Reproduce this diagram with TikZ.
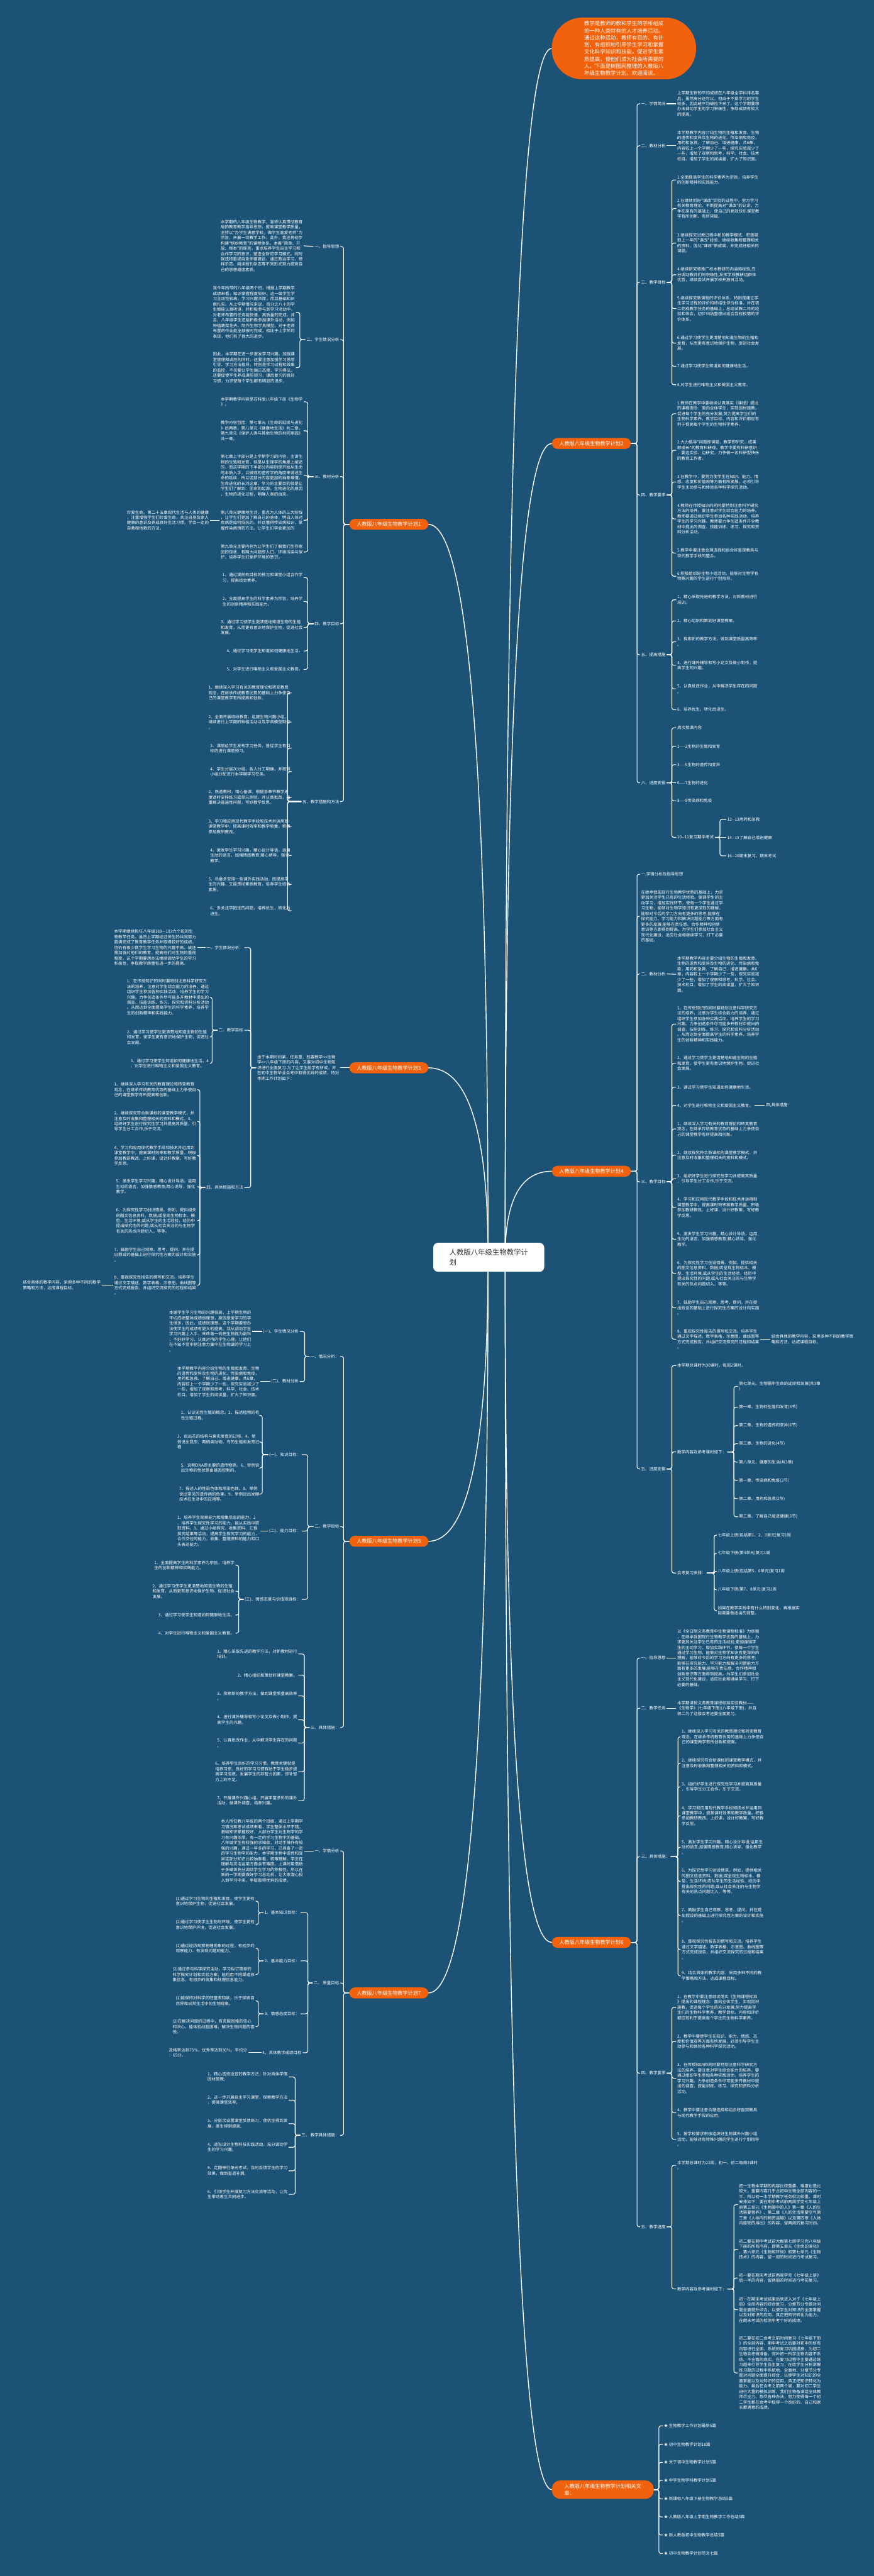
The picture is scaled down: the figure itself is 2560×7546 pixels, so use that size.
\documentclass[tikz,border=0pt]{standalone}
\usepackage{fontspec}
\newfontfamily\cn{Noto Sans CJK SC}
\usetikzlibrary{calc}
\definecolor{bgc}{RGB}{27,82,118}
\definecolor{orc}{RGB}{242,98,12}
\definecolor{rootc}{RGB}{51,51,51}
\pgfdeclarelayer{bglayer}
\pgfdeclarelayer{connlayer}
\pgfsetlayers{bglayer,connlayer,main}
\tikzset{
  leaf/.style={font=\cn\fontsize{12}{15.6}\selectfont, text=white, align=left, inner sep=3pt},
  rl/.style={leaf, anchor=west},
  ll/.style={leaf, anchor=east},
  branch/.style={fill=orc, text=white, font=\cn\fontsize{15}{19}\selectfont, rounded corners=16pt, minimum height=32pt, minimum width=231pt, inner xsep=10pt, inner ysep=0pt},
  conn/.style={draw=white, line width=2pt, rounded corners=6pt},
  mainc/.style={draw=white, line width=2.6pt},
}
\newcommand{\myrc}[3]{\draw[conn] (#1.east) -- ++(#3,0) |- (#2.west);}
\newcommand{\mylc}[3]{\draw[conn] (#1.west) -- ++(-#3,0) |- (#2.east);}
\newcommand{\myrs}[2]{\draw[conn] (#1.east) -- (#2.west);}
\newcommand{\myls}[2]{\draw[conn] (#1.west) -- (#2.east);}
\newcommand{\mycurve}[2]{\draw[mainc] (#1) .. controls ($(#1)!0.6667!(#1|-#2)$) and ($(#2)!0.6667!(#1|-#2)$) .. (#2);}
\begin{document}
\begin{tikzpicture}[x=1pt,y=-1pt]
\begin{pgfonlayer}{bglayer}
\fill[bgc] (0,0) rectangle (2560,7546);
\end{pgfonlayer}
\useasboundingbox (0,0) rectangle (2560,7546);

% ---------- top and root ----------
\node[fill=orc, text=white, rounded corners=90pt, minimum width=423pt, minimum height=181pt, align=left, font=\cn\fontsize{15.5}{20.7}\selectfont] (top) at (1828,142) {教学是教师的教和学生的学所组成\\的一种人类特有的人才培养活动。\\通过这种活动，教师有目的、有计\\划、有组织地引导学生学习和掌握\\文化科学知识和技能，促进学生素\\质提高，使他们成为社会所需要的\\人。下面是树图网整理的人教版八\\年级生物教学计划，欢迎阅读。};
\node[fill=white, text=rootc, rounded corners=14pt, minimum width=325pt, minimum height=85pt, align=left, font=\cn\fontsize{21}{29}\selectfont] (root) at (1432,3683) {人教版八年级生物教学计\\划};
\coordinate (SR) at (1480,3683);
\coordinate (SL) at (1430,3683);

% ---------- branch 2 ----------
\node[branch, anchor=west] (b2) at (1617,1299) {人教版八年级生物教学计划2};
\node[rl] (b2a) at (1875,304) {一、学情简况};
\node[rl] (b2a1) at (1981,304) {上学期生物的平均成绩在八年级全学科排名靠\\后，虽然高分还可以，但由于不爱学习的学生\\较多，因此班平均被拉下来了。这个学期要想\\办法调动学生的学习积极性，争取成绩有较大\\的提高。};
\node[rl] (b2b) at (1875,427) {二、教材分析};
\node[rl] (b2b1) at (1981,427) {本学期教学内容介绍生物的生殖和发育、生物\\的遗传和变异及生物的进化、传染病和免疫，\\用药和急救、了解自己、增进健康。共6章，\\内容较上一个学期少了一些，探究实验减少了\\一些，增加了观察和思考，科学、社会、技术\\栏目。增加了学生的阅读量，扩大了知识面。};
\node[rl] (b2c) at (1875,827) {三、教学目标};
\node[rl] (b2c1) at (1981,527) {1.全面提高学生的科学素养为宗旨，培养学生\\的创新精神和实践能力。};
\node[rl] (b2c2) at (1981,611) {2.在继续抓好"课改"实验的过程中，努力学习\\有关教育理论，不断提高对"课改"的认识，力\\争在原有的基础上，使自己的高效快乐课堂教\\学有所创新、有所突破。};
\node[rl] (b2c3) at (1981,712) {3.继续探究试教过程中新的教学模式，积极吸\\取上一年的"课改"经验，继续收集和整理相关\\的资料，固化"课改"新成果，并完成好相关的\\课题。};
\node[rl] (b2c4) at (1981,805) {4.继续研究和推广校本教研的内涵和经验,充\\分调动教师们的积极性,发挥学校教研组群体\\优势，继续尝试开展学校开放日活动。};
\node[rl] (b2c5) at (1981,904) {5.继续探究新课程的评价体系，特别是建立学\\生学习过程的评价和终结性评价标准，并在初\\二完成教学任务的基础上，总结试教二年的经\\验和体会，初步归纳整理出适合我校校情的评\\价体系。};
\node[rl] (b2c6) at (1981,1005) {6.通过学习使学生更清楚地知道生物的生殖和\\发育，从而更有意识地保护生物，促进社会发\\展。};
\node[rl] (b2c7) at (1981,1073) {7.通过学习使学生知道如何健康地生活。};
\node[rl] (b2c8) at (1981,1127) {8.对学生进行唯物主义和爱国主义教育。};
\node[rl] (b2d) at (1875,1450) {四、教学要求};
\node[rl] (b2d1) at (1981,1212) {1.教师在教学中要继续认真落实《课程》提出\\的课程理念：面向全体学生，实现因材施教，\\促进每个学生的充分发展;努力提高学生们的\\生物科学素养，教学目标、内容和评价都应有\\利于提高每个学生的生物科学素养。};
\node[rl] (b2d2) at (1981,1319) {2.大力倡导"问题即课题，教学即研究，成果\\即成长"的教育科研观。教学中要有科研意识\\，要边实验、边研究，力争做一名科研型快乐\\的教育工作者。};
\node[rl] (b2d3) at (1981,1412) {3.在教学中，要努力使学生在知识、能力、情\\感、态度和价值观等方面有所发展，必须引导\\学生主动参与和体验各种科学探究活动。};
\node[rl] (b2d4) at (1981,1520) {4.教师在传授知识的同时要特别注意科学研究\\方法的培养。要注意对学生综合能力的培养。\\教师要通过组织学生参加各种实践活动，培养\\学生的学习兴趣。教师要力争创造条件开全教\\材中提出的调查、技能训练、练习、探究和资\\料分析活动。};
\node[rl] (b2d5) at (1981,1620) {5.教学中要注意合理选择和组合好直观教具与\\现代教学手段的整合。};
\node[rl] (b2d6) at (1981,1688) {6.积极组织好生物小组活动，能够对生物学有\\特殊兴趣的学生进行个别指导。};
\node[rl] (b2e) at (1875,1918) {五、提高措施};
\node[rl] (b2e1) at (1981,1757) {1、精心采取先进的教学方法，对新教材进行\\培训。};
\node[rl] (b2e2) at (1981,1819) {2、精心组织和策划好课堂教案。};
\node[rl] (b2e3) at (1981,1880) {3、探索新的教学方法，做到课堂质量高效率\\。};
\node[rl] (b2e4) at (1981,1949) {4、进行课外辅导和写小论文及做小制作，提\\高学生的兴趣。};
\node[rl] (b2e5) at (1981,2018) {5、认真批改作业，从中解决学生存在的问题\\。};
\node[rl] (b2e6) at (1981,2079) {6、培养优生，转化后进生。};
\node[rl] (b2f) at (1875,2293) {六、进度安排};
\node[rl] (b2f1) at (1981,2132) {周次授课内容};
\node[rl] (b2f2) at (1981,2186) {1----2生物的生殖和发育};
\node[rl] (b2f3) at (1981,2240) {3----5生物的遗传和变异};
\node[rl] (b2f4) at (1981,2293) {6----7生物的进化};
\node[rl] (b2f5) at (1981,2346) {8----9传染病和免疫};
\node[rl] (b2f6) at (1981,2453) {10--11复习期中考试};
\node[rl] (b2f6a) at (2128,2400) {12--13用药和急救};
\node[rl] (b2f6b) at (2128,2453) {14--15了解自己增进健康};
\node[rl] (b2f6c) at (2128,2507) {16--20期末复习、期末考试};

% ---------- branch 4 ----------
\node[branch, anchor=west] (b4) at (1617,3431) {人教版八年级生物教学计划4};
\node[rl] (b4a) at (1875,2561) {一,学情分析及指导思想};
\node[rl] (b4b) at (1875,2684) {在继承我国现行生物教学优势的基础上，力求\\更加关注学生已有的生活经验。强调学生的主\\动学习，增加实践环节，使每一个学生通过学\\习生物，能够对生物学知识有更深刻的理解，\\能够对今后的学习方向有更多的思考;能够在\\探究能力、学习能力和解决问题能力等方面有\\更多的发展;能够在责任感、合作精神和创新\\意识等方面得到提高。为学生们参加社会主义\\现代化建设，适应社会和继续学习，打下必要\\的基础。};
\node[rl] (b4c) at (1875,2853) {二、教材分析};
\node[rl] (b4c1) at (1981,2854) {本学期教学内容主要介绍生物的生殖和发育、\\生物的遗传和变异及生物的进化、传染病和免\\疫，用药和急救、了解自己、增进健康。共6\\章，内容较上一个学期少了一些，探究实验减\\少了一些，增加了观察和思考，科学、社会、\\技术栏目。增加了学生的阅读量，扩大了知识\\面。};
\node[rl] (b4d) at (1875,3462) {三、教学目标};
\node[rl] (b4d1) at (1981,3000) {1、在传授知识的同时要特别注意科学研究方\\法的培养，注意对学生综合能力的培养，通过\\组织学生参加各种实践活动，培养学生的学习\\兴趣。力争创造条件尽可能多开教材中提出的\\调查、技能训练、练习、探究和资料分析活动\\。从而达到全面提高学生的科学素养，培养学\\生的创新精神和实践能力。};
\node[rl] (b4d2) at (1981,3115) {2、通过学习使学生更清楚地知道生物的生殖\\和发育，使学生更有意识地保护生物，促进社\\会发展。};
\node[rl] (b4d3) at (1981,3185) {3、通过学习使学生知道如何健康地生活。};
\node[rl] (b4d4) at (1981,3238) {4、对学生进行唯物主义和爱国主义教育。};
\node[rl] (b4d4x) at (2241,3238) {四,具体措施：};
\node[rl] (b4d5) at (1981,3307) {1、继续深入学习有关的教育理论和转变教育\\观念，在继承传统教育优势的基础上力争使自\\己的课堂教学有所提高和创新。};
\node[rl] (b4d6) at (1981,3384) {2、继续探究符合新课标的课堂教学模式，并\\注意及时收集和整理相关的资料和模式。};
\node[rl] (b4d7) at (1981,3453) {3、组织好学生进行探究性学习并提高其质量\\，引导学生分工合作,乐于交流。};
\node[rl] (b4d8) at (1981,3537) {4、学习和应用现代教学手段和技术并运用到\\课堂教学中，提高课时效率和教学质量，积极\\参加教研教改。上好课，设计好教案，写好教\\学反思。};
\node[rl] (b4d9) at (1981,3630) {5、激发学生学习兴趣，精心设计导语，运用\\生动的语言，加强情感教育;精心诱导，强化\\教学。};
\node[rl] (b4d10) at (1981,3730) {6、为探究性学习创设情景。例如，提供相关\\的图文信息资料，数据;或呈现生物标本、模\\型、生活环境;或从学生的生活经验，经历中\\提出探究性的问题;或从社会关注的与生物学\\有关的热点问题切入，等等。};
\node[rl] (b4d11) at (1981,3831) {7、鼓励学生自己观察、思考、提问，并在提\\出假设的基础上进行探究性方案的设计和实施\\。};
\node[rl] (b4d12) at (1981,3923) {8、重视探究性报告的撰写和交流。培养学生\\通过文字描述，数字表格，示意图，曲线图等\\方式完成报告，并组织交流探究的过程和结果\\。};
\node[rl] (b4d12x) at (2257,3923) {结合具体的教学内容，采用多种不同的教学策\\略和方法，达成课程目标。};
\node[rl] (b4e) at (1875,4303) {五、进度安排};
\node[rl] (b4e1) at (1981,4000) {本学期总课时为30课时，每周2课时。};
\node[rl] (b4e2) at (1981,4253) {教学内容及参考课时如下：};
\node[rl] (b4e2a) at (2162,4061) {第七单元、生物圈中生命的延续和发展(共3章\\)};
\node[rl] (b4e2b) at (2162,4122) {第一章、生物的生殖和发育(5节)};
\node[rl] (b4e2c) at (2162,4176) {第二章、生物的遗传和变异(6节)};
\node[rl] (b4e2d) at (2162,4229) {第三章、生物的进化(4节)};
\node[rl] (b4e2e) at (2162,4283) {第八单元、健康的生活(共3章)};
\node[rl] (b4e2f) at (2162,4337) {第一章、传染病和免疫(3节)};
\node[rl] (b4e2g) at (2162,4390) {第二章、用药和急救(2节)};
\node[rl] (b4e2h) at (2162,4443) {第三章、了解自己增进健康(3节)};
\node[rl] (b4e3) at (1981,4608) {会考复习安排：};
\node[rl] (b4e3a) at (2100,4497) {七年级上册(包括第1、2、3单元)复习1周};
\node[rl] (b4e3b) at (2100,4550) {七年级下册(第4单元)复习1周};
\node[rl] (b4e3c) at (2100,4603) {八年级上册(包括第5、6单元)复习1周};
\node[rl] (b4e3d) at (2100,4657) {八年级下册(第7、8单元)复习1周};
\node[rl] (b4e3e) at (2100,4718) {如果在教学实践中有什么特别变化，再根据实\\际需要做适当的调整。};

% ---------- branch 6 ----------
\node[branch, anchor=west] (b6) at (1617,5690) {人教版八年级生物教学计划6};
\node[rl] (b6a) at (1875,4857) {一、指导思想};
\node[rl] (b6a1) at (1981,4857) {以《全日制义务教育中生物课程标准》为依据\\，在继承我国现行生物教学优势的基础上，力\\求更加关注学生已有的生活经验;更加强调学\\生的主动学习，增加实践环节，使每一个学生\\通过学习生物，能够对生物学知识有更深刻的\\理解，能够对今后的学习方向有更多的思考;\\能够在探究能力、学习能力和解决问题能力方\\面有更多的发展;能够在责任感、合作精神和\\创新意识等方面得到提高。为学生们参加社会\\主义现代化建设，适应社会和继续学习，打下\\必要的基础。};
\node[rl] (b6b) at (1875,5004) {二、教学任务};
\node[rl] (b6b1) at (1981,5004) {本学期讲授义务教育课程标准实验教材——\\《生物学》(七年级下册)(八年级下册)，并且\\初二为了迎接会考还要全面复习。};
\node[rl] (b6c) at (1875,5439) {三、具体措施：};
\node[rl] (b6c1) at (1994,5088) {1、继续深入学习有关的教育理论和转变教育\\观念，在继承传统教育优势的基础上力争使自\\己的课堂教学有所创新和提高。};
\node[rl] (b6c2) at (1994,5165) {2、继续探究符合新课标的课堂教学模式，并\\注意及时收集和整理相关的资料和模式。};
\node[rl] (b6c3) at (1994,5234) {3、组织好学生进行探究性学习并提高其质量\\，引导学生分工合作，乐于交流。};
\node[rl] (b6c4) at (1994,5319) {4、学习和应用现代教学手段和技术并运用到\\课堂教学中，提高课时效率和教学质量。积极\\参加教研教改。上好课，设计好教案，写好教\\学反思。};
\node[rl] (b6c5) at (1994,5411) {5、激发学生学习兴趣。精心设计导语;运用生\\动的语言;加强情感教育;精心诱导、强化教学\\。};
\node[rl] (b6c6) at (1994,5511) {6、为探究性学习创设情景。例如，提供相关\\的图文信息资料、数据;或呈现生物标本、模\\型、生活环境;或从学生的生活经验、经历中\\提出探究性的问题;或从社会关注的与生物学\\有关的热点问题切入，等等。};
\node[rl] (b6c7) at (1994,5611) {7、鼓励学生自己观察、思考、提问，并在提\\出假设的基础上进行探究性方案的设计和实施\\。};
\node[rl] (b6c8) at (1994,5711) {8、重视探究性报告的撰写和交流。培养学生\\通过文字描述、数字表格、示意图、曲线图等\\方式完成报告，并组织交流探究的过程和结果\\。};
\node[rl] (b6c9) at (1994,5788) {9、结合具体的教学内容，采用多种不同的教\\学策略和方法，达成课程目标。};
\node[rl] (b6d) at (1875,6073) {四、教学要求};
\node[rl] (b6d1) at (1981,5880) {1、在教学中要注意继续落实《生物课程标准\\》提出的课程理念：面向全体学生，实现因材\\施教，促进每个学生的充分发展;努力提高学\\生们的生物科学素养，教学目标、内容和评价\\都应有利于提高每个学生的生物科学素养。};
\node[rl] (b6d2) at (1981,5980) {2、教学中要使学生在知识、能力、情感、态\\度和价值观等方面有所发展，必须引导学生主\\动参与和体验各种科学探究活动。};
\node[rl] (b6d3) at (1981,6088) {3、在传授知识的同时要特别注意科学研究方\\法的培养。要注意对学生综合能力的培养。要\\通过组织学生参加各种实践活动，培养学生的\\学习兴趣。力争创造条件尽可能多开教材中提\\出的调查、技能训练、练习、探究和资料分析\\活动。};
\node[rl] (b6d4) at (1981,6189) {4、教学中要注意合理选择和组合好直观教具\\与现代教学手段的应用。};
\node[rl] (b6d5) at (1981,6267) {5、按学校要求积极组织好生物课外兴趣小组\\活动，能够对有特殊兴趣的学生进行个别指导\\。};
\node[rl] (b6e) at (1875,6523) {五、教学进度};
\node[rl] (b6e1) at (1981,6343) {本学期总课时为22周，初一、初二每周3课时\\。};
\node[rl] (b6e2) at (1981,6705) {教学内容及参考课时如下：};
\node[rl] (b6e2a) at (2162,6458) {初一生物本学期的内容比较重要、难度也是比\\较大，重要内容几乎占初中生物全部内容的一\\半，所以初一本学期教学任务就比较重。课时\\安排如下：要在期中考试前两周学完七年级上\\册第三单元《生物圈中的人》第一章《人的生\\活需要营养》、第二章《人的生活需要空气第\\三章《人体内的物资运输》以及第四章《人体\\内废物的排出》的内容，留两周的复习时间。};
\node[rl] (b6e2b) at (2162,6589) {初二要在期中考试前大概第七周学习完八年级\\下册的所有内容，即第五单元《生命的演化》\\、第六单元《生物和环境》和第七单元《生物\\技术》的内容，留一周的时间进行考试复习。};
\node[rl] (b6e2c) at (2162,6673) {初一要在期末考试前两周学完《七年级上册》\\后一半的内容，留两周的时间进行考前复习。};
\node[rl] (b6e2d) at (2162,6766) {初一在期末考试结束后就进入对于《七年级上\\册》全册内容的综合复习，分章节分专题对问\\题全面提升综合，以便学生对知识的全面掌握\\以及对知识的应用，真正把知识转化为能力，\\在期末考试的检测中考个好的成绩。};
\node[rl] (b6e2e) at (2162,6951) {初二要在初二会考之前时间复习《七年级下册\\》的全部内容，期中考试之后要对初中的所有\\内容进行全面、系统的复习巩固提高，为初二\\生物会考做准备。弥补初一所学生物内容不系\\统、不全面的现实。在复习过程中主要通过练\\习题来引导学生自主复习，在给学生分析讲解\\练习题的过程中系统地、全面地、分章节分专\\题对问题全面提升综合，以便学生对知识的全\\面掌握以及对知识的应用，真正把知识转化为\\能力。最后在会考之前两个周，要对初二学生\\进行大量的模拟训练，我们生物备课组全体教\\师尽全力、想尽各种办法，努力使得每一个初\\二学生都在会考中取得一个良好的、自己和家\\长都满意的成绩。};

% ---------- related articles ----------
\node[branch, anchor=west, align=left, minimum width=298pt, minimum height=54pt, rounded corners=24pt, inner xsep=36pt] (b8) at (1617,7293) {人教版八年级生物教学计划相关文\\章：};
\node[rl] (b8a) at (1942,7106) {★ 生物教学工作计划最新5篇};
\node[rl] (b8b) at (1942,7160) {★ 初中生物教学计划10篇};
\node[rl] (b8c) at (1942,7213) {★ 关于初中生物教学计划5篇};
\node[rl] (b8d) at (1942,7266) {★ 中学生物学科教学计划5篇};
\node[rl] (b8e) at (1942,7320) {★ 新课标八年级下册生物教学总结5篇};
\node[rl] (b8f) at (1942,7373) {★ 人教版八年级上学期生物教学工作总结5篇};
\node[rl] (b8g) at (1942,7426) {★ 新人教版初中生物教学总结5篇};
\node[rl] (b8h) at (1942,7480) {★ 初中生物教学计划范文七篇};

% ---------- branch 1 ----------
\node[branch, anchor=east] (b1) at (1255,1536) {人教版八年级生物教学计划1};
\node[ll] (b1a) at (997,722) {一、指导思想};
\node[ll] (b1a1) at (890,720) {本学期的八年级生物教学，我将认真贯彻教育\\局的教育教学指导思想，提高课堂教学质量，\\坚持以"办学生满意学校，做学生喜爱老师"为\\宗旨，开展一切教学工作。此外，我还将初步\\构建"缤纷教育"的课程体系，本着"简单、开\\放、根本"的原则，重点培养学生自主学习和\\合作学习的意识，塑造全新的学习模式。同时\\我还将重视自身师德建设，通过政治学习、榜\\样示范、阅读报刊杂志等不同形式努力提高自\\己的思想道德素质。};
\node[ll] (b1b) at (997,995) {二、学生情况分析};
\node[ll] (b1b1) at (867,915) {我今年所带的八年级两个班，根据上学期教学\\成绩来看，知识掌握程度较好。这一级学生学\\习主动性较高，学习兴趣浓厚，而且基础知识\\很扎实。从上学期情况来说，百分之八十的学\\生都能认真听讲，并积极参与到学习活动中，\\对老师布置的任务能快速、高质量的完成。并\\且，八年级学生还能积极参加课外活动，例如\\种植蔬菜花卉、制作生物学具模型。对于老师\\布置的作业能全部按时完成，相比于上学年的\\表现，他们有了很大的进步。};
\node[ll] (b1b2) at (867,1077) {因此，本学期在进一步激发学习兴趣、加强课\\堂管理和调控的同时，还要注意加强学习思想\\引导、学习方法指导，特别是学习过程和效果\\的监控，不仅要让学生端正态度、学习得法，\\还要促使学生养成课前预习，课后复习的良好\\习惯，力求使每个学生都有明显的进步。};
\node[ll] (b1c) at (997,1396) {三、教材分析};
\node[ll] (b1c1) at (890,1177) {本学期教学内容是苏科版八年级下册《生物学\\》。};
\node[ll] (b1c2) at (890,1262) {教学内容包括：第七单元《生命的延续与进化\\》后两章，第八单元《健康地生活》共二章，\\第九单元《保护人类与其他生物的共同家园》\\共一章。};
\node[ll] (b1c3) at (890,1393) {第七章上半部分是上学期学习的内容，主讲生\\物的生殖和发育，但是从生理学的角度上阐述\\的，而这学期的下半部分内容则是开始从生命\\的本质入手，以微观的遗传学的角度来讲述生\\命的延续，所以这部分内容更加的抽象难懂。\\生命进化的长河这章，学习的主要目的就是让\\学生们了解到：生命的起源，生物进化的原因\\，生物的进化过程，明确人类的由来。};
\node[ll] (b1c4) at (890,1524) {第八单元健康地生活，重点为人体的三大防线\\，让学生们更加了解自己的身体，明白人体对\\疾病是如何抵抗的。并且懂得传染病知识，掌\\握传染病预防方法。让学生们学会更加的};
\node[ll] (b1c4x) at (615,1524) {珍爱生命。第二十五章现代生活与人类的健康\\，注重增强学生们珍爱生命，关注自身及家人\\健康的意识及养成良好生活习惯。学会一定的\\自救和他救的方法。};
\node[ll] (b1c5) at (890,1617) {第九单元主要内容为让学生们了解我们生存家\\园的现状，有两大问题即人口、环境污染与保\\护。培养学生们爱护环境的意识。};
\node[ll] (b1d) at (997,1827) {四、教学目标};
\node[ll] (b1d1) at (890,1692) {1、通过课前有目标的预习和课堂小组合作学\\习，提高综合素养。};
\node[ll] (b1d2) at (890,1762) {2、全面提高学生的科学素养为宗旨，培养学\\生的创新精神和实践能力。};
\node[ll] (b1d3) at (890,1838) {3、通过学习使学生更清楚地知道生物的生殖\\和发育，从而更有意识地保护生物，促进社会\\发展。};
\node[ll] (b1d4) at (890,1907) {4、通过学习使学生知道如何健康地生活。};
\node[ll] (b1d5) at (890,1961) {5、对学生进行唯物主义和爱国主义教育。};
\node[ll] (b1e) at (997,2348) {五、教学措施和方法};
\node[ll] (b1e1) at (854,2030) {1、继续深入学习有关的教育理论和转变教育\\观念，在继承传统教育优势的基础上力争使自\\己的课堂教学有所提高和创新。};
\node[ll] (b1e2) at (854,2115) {2、全面开展缤纷教育，组建生物兴趣小组，\\继续进行上学期的种植活动以及学具模型制作\\。};
\node[ll] (b1e3) at (854,2192) {3、课前给学生发布学习任务，督促学生有目\\标的进行课前预习。};
\node[ll] (b1e4) at (854,2260) {4、学生分层次分组，各人分工明确，并按照\\小组分配进行本学期学习任务。};
\node[ll] (b1e5) at (854,2336) {2、熟透教材，精心备课，根据各章节教学进\\度适时安排练习或单元测验，并认真批改，着\\重解决普遍性问题，写好教学反思。};
\node[ll] (b1e6) at (854,2421) {3、学习和应用现代教学手段和技术并运用到\\课堂教学中，提高课时效率和教学质量，积极\\参加教研教改。};
\node[ll] (b1e7) at (854,2506) {4、激发学生学习兴趣，精心设计导语，运用\\生动的语言，加强情感教育;精心诱导，强化\\教学。};
\node[ll] (b1e8) at (854,2591) {5、尽量多安排一些课外实践活动，既提高学\\生的兴趣，又能贯彻素质教育，培养学生综合\\素质。};
\node[ll] (b1e9) at (854,2668) {6、多关注学困生的问题，培养优生，转化后\\进生。};

% ---------- branch 3 ----------
\node[branch, anchor=east] (b3) at (1255,3128) {人教版八年级生物教学计划3};
\node[ll] (b3a) at (997,3128) {由于本期时间紧，任务重，既要教学<<生物\\学>>八年级下册的内容，又要对初中生物知\\识进行全面复习.为了让学生能学有所成，并\\在初中生物毕业会考中取得优异的成绩，特对\\本期工作计划如下：};
\node[ll] (b3b) at (716,2776) {一、学生情况分析：};
\node[ll] (b3b1) at (578,2776) {本学期继续担任八年级188—193六个班的生\\物教学任务。虽然上学期经过师生的共同努力\\圆满完成了教育教学任务并取得较好的成绩。\\但仍有极少数学生学习生物的兴趣不高，故还\\需加强对他们的教育，提高他们对生物的重视\\程度。这个学期要想办法继续调动学生的学习\\积极性，争取教学质量有进一步的提高。};
\node[ll] (b3c) at (716,3018) {二、教学目标};
\node[ll] (b3c1) at (615,2921) {1、在传授知识的同时要特别注意科学研究方\\法的培养，注意对学生综合能力的培养，通过\\组织学生参加各种实践活动，培养学生的学习\\兴趣。力争创造条件尽可能多开教材中提出的\\调查、技能训练、练习、探究和资料分析活动\\。从而达到全面提高学生的科学素养，培养学\\生的创新精神和实践能力。};
\node[ll] (b3c2) at (615,3038) {2、通过学习使学生更清楚地知道生物的生殖\\和发育，使学生更有意识地保护生物，促进社\\会发展。};
\node[ll] (b3c3) at (615,3115) {3、通过学习使学生知道如何健康地生活。4\\、对学生进行唯物主义和爱国主义教育。};
\node[ll] (b3d) at (716,3479) {四、具体措施和方法};
\node[ll] (b3d1) at (578,3192) {1、继续深入学习有关的教育理论和转变教育\\观念，在继承传统教育优势的基础上力争使自\\己的课堂教学有所提高和创新。};
\node[ll] (b3d2) at (578,3285) {2、继续探究符合新课标的课堂教学模式，并\\注意及时收集和整理相关的资料和模式。3、\\组织好学生进行探究性学习并提高其质量，引\\导学生分工合作,乐于交流。};
\node[ll] (b3d3) at (578,3385) {4、学习和应用现代教学手段和技术并运用到\\课堂教学中，提高课时效率和教学质量，积极\\参加教研教改。上好课，设计好教案，写好教\\学反思。};
\node[ll] (b3d4) at (578,3476) {5、激发学生学习兴趣，精心设计导语，运用\\生动的语言，加强情感教育;精心诱导，强化\\教学。};
\node[ll] (b3d5) at (578,3576) {6、为探究性学习创设情景。例如，提供相关\\的图文信息资料，数据;或呈现生物标本、模\\型、生活环境;或从学生的生活经验，经历中\\提出探究性的问题;或从社会关注的与生物学\\有关的热点问题切入，等等。};
\node[ll] (b3d6) at (578,3676) {7、鼓励学生自己观察、思考、提问，并在提\\出假设的基础上进行探究性方案的设计和实施\\。};
\node[ll] (b3d7) at (578,3765) {8、重视探究性报告的撰写和交流。培养学生\\通过文字描述，数字表格，示意图，曲线图等\\方式完成报告，并组织交流探究的过程和结果\\。};
\node[ll] (b3d7x) at (298,3765) {结合具体的教学内容，采用多种不同的教学\\策略和方法，达成课程目标。};

% ---------- branch 5 ----------
\node[branch, anchor=east] (b5) at (1255,4515) {人教版八年级生物教学计划5};
\node[ll] (b5a) at (997,3973) {一、情况分析：};
\node[ll] (b5a1) at (878,3900) {(一)、学生情况分析};
\node[ll] (b5a1x) at (739,3900) {本届学生学习生物的兴趣很高，上学期生物的\\平均成绩整体成绩很理想，原因是爱学习的学\\生很多，因此，成绩很理想。这个学期要想办\\法使学生的成绩有更大的提高。我从调动学生\\学习兴趣上入手，来改善一向把生物视为副科\\，不好好学习、认真对待的学生心理，让他们\\在不知不觉中把注意力集中在生物课的学习上\\。};
\node[ll] (b5a2) at (878,4047) {(二)、教材分析};
\node[ll] (b5a2x) at (763,4047) {本学期教学内容介绍生物的生殖和发育、生物\\的遗传和变异及生物的进化、传染病和免疫，\\用药和急救、了解自己、增进健康。共6章，\\内容较上一个学期少了一些，探究实验减少了\\一些，增加了观察和思考，科学、社会、技术\\栏目。增加了学生的阅读量，扩大了知识面。};
\node[ll] (b5b) at (997,4472) {二、教学目标};
\node[ll] (b5b1) at (884,4261) {(一)、知识目标：};
\node[ll] (b5b1a) at (763,4146) {1、认识无性生殖的概念。2、描述植物的有\\性生殖过程。};
\node[ll] (b5b1b) at (763,4224) {3、说出花的结构与果实发育的过程。4、举\\例说出昆虫、两栖类动物、鸟的生殖和发育过\\程};
\node[ll] (b5b1c) at (763,4300) {5、说明DNA是主要的遗传物质。6、举例说\\出生物的性状是由基因控制的。};
\node[ll] (b5b1d) at (763,4377) {7、描述人的性染色体和常染色体。8、举例\\说出常见的遗传病的危害。9、举例说出发酵\\技术在生活中的应用等。};
\node[ll] (b5b2) at (884,4485) {(二)、能力目标：};
\node[ll] (b5b2x) at (763,4485) {1、培养学生观察能力和搜集信息的能力。2\\、培养学生探究性学习的能力，能从实践中获\\取资料。3、通过小组探究、收集资料、汇报\\探究结果等活动，提高学生探究学习的能力，\\合作交往的能力，收集、整理资料的能力和口\\头表达能力。};
\node[ll] (b5b3) at (884,4685) {(三)、情感态度与价值观目标：};
\node[ll] (b5b3a) at (690,4585) {1、全面提高学生的科学素养为宗旨，培养学\\生的创新精神和实践能力。};
\node[ll] (b5b3b) at (690,4661) {2、通过学习使学生更清楚地知道生物的生殖\\和发育，从而更有意识地保护生物，促进社会\\发展。};
\node[ll] (b5b3c) at (690,4731) {3、通过学习使学生知道如何健康地生活。};
\node[ll] (b5b3d) at (690,4784) {4、对学生进行唯物主义和爱国主义教育。};
\node[ll] (b5c) at (997,5060) {三、具体措施：};
\node[ll] (b5c1) at (874,4845) {1、精心采取先进的教学方法，对新教材进行\\培训。};
\node[ll] (b5c2) at (874,4907) {2、精心组织和策划好课堂教案。};
\node[ll] (b5c3) at (874,4968) {3、探索新的教学方法，做到课堂质量高效率\\。};
\node[ll] (b5c4) at (874,5038) {4、进行课外辅导和写小论文及做小制作，提\\高学生的兴趣。};
\node[ll] (b5c5) at (874,5106) {5、认真批改作业，从中解决学生存在的问题\\。};
\node[ll] (b5c6) at (874,5190) {6、培养学生良好的学习习惯。教育关键就是\\培养习惯，良好的学习习惯有助于学生稳步提\\高学习成绩，发展学生的非智力因素，弥补智\\力上的不足。};
\node[ll] (b5c7) at (874,5275) {7、开展课外兴趣小组。开展丰富多彩的课外\\活动，做课外调查，培养兴趣。};

% ---------- branch 7 ----------
\node[branch, anchor=east] (b7) at (1255,5838) {人教版八年级生物教学计划7};
\node[ll] (b7a) at (997,5422) {一、学情分析};
\node[ll] (b7a1) at (891,5422) {本人所任教八年级的两个班级，通过上学期学\\习情况和考试成绩来看，学生整体水平不错，\\基础知识掌握较好，大部分学生对生物学的学\\习有兴趣浓厚，有一定的学习生物学的基础。\\八年级学生有较强的求知欲，对动手操作有较\\强的兴趣，通过一年多的学习，已具备了一定\\的学习生物学的能力，本学期生物中遗传和变\\异这部分知识比较抽象看，较难理解，学生在\\理解与灵活运用方面会有难度。上课时用借助\\于多媒体充分调动学生学习的积极性。所以在\\新的一学期要做好学习总动员，让大家潜心投\\入到学习中来，争取取得优异的成绩。};
\node[ll] (b7b) at (997,5809) {二、 质量目标};
\node[ll] (b7b1) at (881,5603) {1、基本知识目标：};
\node[ll] (b7b1a) at (749,5569) {(1)通过学习生物的生殖和发育，使学生更有\\意识地保护生物，促进社会发展。};
\node[ll] (b7b1b) at (749,5638) {(2)通过学习使学生生物与环境，使学生更有\\意识地保护环境，促进社会发展。};
\node[ll] (b7b2) at (881,5744) {2、基本能力目标：};
\node[ll] (b7b2a) at (749,5707) {(1)通过经历观察物理现象的过程，有初步的\\观察能力、有发现问题的能力。};
\node[ll] (b7b2b) at (749,5784) {(2)通过参与科学探究活动，学习拟订简单的\\科学探究计划和实验方案，能利用不同渠道收\\集信息，有初步的收集和处理信息能力。};
\node[ll] (b7b3) at (881,5899) {3、情感态度目标：};
\node[ll] (b7b3a) at (749,5861) {(1)能保持对科学的旺盛求知欲，乐于探索自\\然界和日常生活中的生物现象。};
\node[ll] (b7b3b) at (749,5937) {(2)在解决问题的过程中，有克服困难的信心\\和决心，能体验战胜困难，解决生物问题的喜\\悦。};
\node[ll] (b7b4) at (887,6013) {4、具体教学成绩目标};
\node[ll] (b7b4x) at (727,6013) {及格率达到75\%，优秀率达到30\%，平均分\\：65分。};
\node[ll] (b7c) at (997,6255) {三、 教学具体措施：};
\node[ll] (b7c1) at (846,6084) {1、精心选择适宜的教学方法，针对具体学情\\因材施教;};
\node[ll] (b7c2) at (846,6152) {2、进一步开展自主学习课堂，探索教学方法\\，提高课堂效率;};
\node[ll] (b7c3) at (846,6221) {3、分层次设置课堂反馈练习，使优生得到发\\展，差生得到提高;};
\node[ll] (b7c4) at (846,6290) {4、适当设计生物科技实践活动，充分调动学\\生的学习兴趣;};
\node[ll] (b7c5) at (846,6359) {5、定期举行单元考试，及时反馈学生的学习\\效果，做到查遗补漏;};
\node[ll] (b7c6) at (846,6428) {6、引领学生开展复习方法交流等活动，让优\\生带动差生共同进步。};

% ---------- connectors ----------
\begin{pgfonlayer}{connlayer}
\mycurve{SR}{top.west}
\mycurve{SR}{b2.west}
\mycurve{SR}{b4.west}
\mycurve{SR}{b6.west}
\mycurve{SR}{b8.west}
\mycurve{SL}{b1.east}
\mycurve{SL}{b3.east}
\mycurve{SL}{b5.east}
\mycurve{SL}{b7.east}
% b2
\foreach \c in {b2a,b2b,b2c,b2d,b2e,b2f} {\myrc{b2}{\c}{18}}
\myrs{b2a}{b2a1}
\myrs{b2b}{b2b1}
\foreach \c in {b2c1,b2c2,b2c3,b2c4,b2c5,b2c6,b2c7,b2c8} {\myrc{b2c}{\c}{15}}
\foreach \c in {b2d1,b2d2,b2d3,b2d4,b2d5,b2d6} {\myrc{b2d}{\c}{15}}
\foreach \c in {b2e1,b2e2,b2e3,b2e4,b2e5,b2e6} {\myrc{b2e}{\c}{15}}
\foreach \c in {b2f1,b2f2,b2f3,b2f5,b2f6} {\myrc{b2f}{\c}{15}}
\myrs{b2f}{b2f4}
\foreach \c in {b2f6a,b2f6c} {\myrc{b2f6}{\c}{15}}
\myrs{b2f6}{b2f6b}
% b4
\foreach \c in {b4a,b4b,b4c,b4d,b4e} {\myrc{b4}{\c}{18}}
\myrs{b4c}{b4c1}
\foreach \c in {b4d1,b4d2,b4d3,b4d4,b4d5,b4d6,b4d7,b4d8,b4d9,b4d10,b4d11,b4d12} {\myrc{b4d}{\c}{15}}
\myrs{b4d4}{b4d4x}
\myrs{b4d12}{b4d12x}
\foreach \c in {b4e1,b4e2,b4e3} {\myrc{b4e}{\c}{15}}
\foreach \c in {b4e2a,b4e2b,b4e2c,b4e2d,b4e2e,b4e2f,b4e2g,b4e2h} {\myrc{b4e2}{\c}{19}}
\foreach \c in {b4e3a,b4e3b,b4e3c,b4e3d,b4e3e} {\myrc{b4e3}{\c}{21}}
% b6
\foreach \c in {b6a,b6b,b6c,b6d,b6e} {\myrc{b6}{\c}{18}}
\myrs{b6a}{b6a1}
\myrs{b6b}{b6b1}
\foreach \c in {b6c1,b6c2,b6c3,b6c4,b6c5,b6c6,b6c7,b6c8,b6c9} {\myrc{b6c}{\c}{21}}
\foreach \c in {b6d1,b6d2,b6d3,b6d4,b6d5} {\myrc{b6d}{\c}{15}}
\foreach \c in {b6e1,b6e2} {\myrc{b6e}{\c}{15}}
\foreach \c in {b6e2a,b6e2b,b6e2c,b6e2d,b6e2e} {\myrc{b6e2}{\c}{19}}
% b8
\foreach \c in {b8a,b8b,b8c,b8d,b8e,b8f,b8g,b8h} {\myrc{b8}{\c}{15}}
% b1
\foreach \c in {b1a,b1b,b1c,b1d,b1e} {\mylc{b1}{\c}{17}}
\myls{b1a}{b1a1}
\foreach \c in {b1b1,b1b2} {\mylc{b1b}{\c}{16}}
\foreach \c in {b1c1,b1c2,b1c3,b1c4,b1c5} {\mylc{b1c}{\c}{17}}
\myls{b1c4}{b1c4x}
\foreach \c in {b1d1,b1d2,b1d3,b1d4,b1d5} {\mylc{b1d}{\c}{17}}
\foreach \c in {b1e1,b1e2,b1e3,b1e4,b1e5,b1e6,b1e7,b1e8,b1e9} {\mylc{b1e}{\c}{40}}
% b3
\myls{b3}{b3a}
\foreach \c in {b3b,b3c,b3d} {\mylc{b3a}{\c}{16}}
\myls{b3b}{b3b1}
\foreach \c in {b3c1,b3c2,b3c3} {\mylc{b3c}{\c}{16}}
\foreach \c in {b3d1,b3d2,b3d3,b3d4,b3d5,b3d6,b3d7} {\mylc{b3d}{\c}{16}}
\myls{b3d7}{b3d7x}
% b5
\foreach \c in {b5a,b5b,b5c} {\mylc{b5}{\c}{17}}
\foreach \c in {b5a1,b5a2} {\mylc{b5a}{\c}{14}}
\myls{b5a1}{b5a1x}
\myls{b5a2}{b5a2x}
\foreach \c in {b5b1,b5b2,b5b3} {\mylc{b5b}{\c}{17}}
\foreach \c in {b5b1a,b5b1b,b5b1c,b5b1d} {\mylc{b5b1}{\c}{17}}
\myls{b5b2}{b5b2x}
\foreach \c in {b5b3a,b5b3b,b5b3c,b5b3d} {\mylc{b5b3}{\c}{14}}
\foreach \c in {b5c1,b5c2,b5c3,b5c4,b5c5,b5c6,b5c7} {\mylc{b5c}{\c}{15}}
% b7
\foreach \c in {b7a,b7b,b7c} {\mylc{b7}{\c}{17}}
\myls{b7a}{b7a1}
\foreach \c in {b7b1,b7b2,b7b3,b7b4} {\mylc{b7b}{\c}{14}}
\foreach \c in {b7b1a,b7b1b} {\mylc{b7b1}{\c}{15}}
\foreach \c in {b7b2a,b7b2b} {\mylc{b7b2}{\c}{15}}
\foreach \c in {b7b3a,b7b3b} {\mylc{b7b3}{\c}{15}}
\myls{b7b4}{b7b4x}
\foreach \c in {b7c1,b7c2,b7c3,b7c4,b7c5,b7c6} {\mylc{b7c}{\c}{15}}
\end{pgfonlayer}
\end{tikzpicture}
\end{document}
